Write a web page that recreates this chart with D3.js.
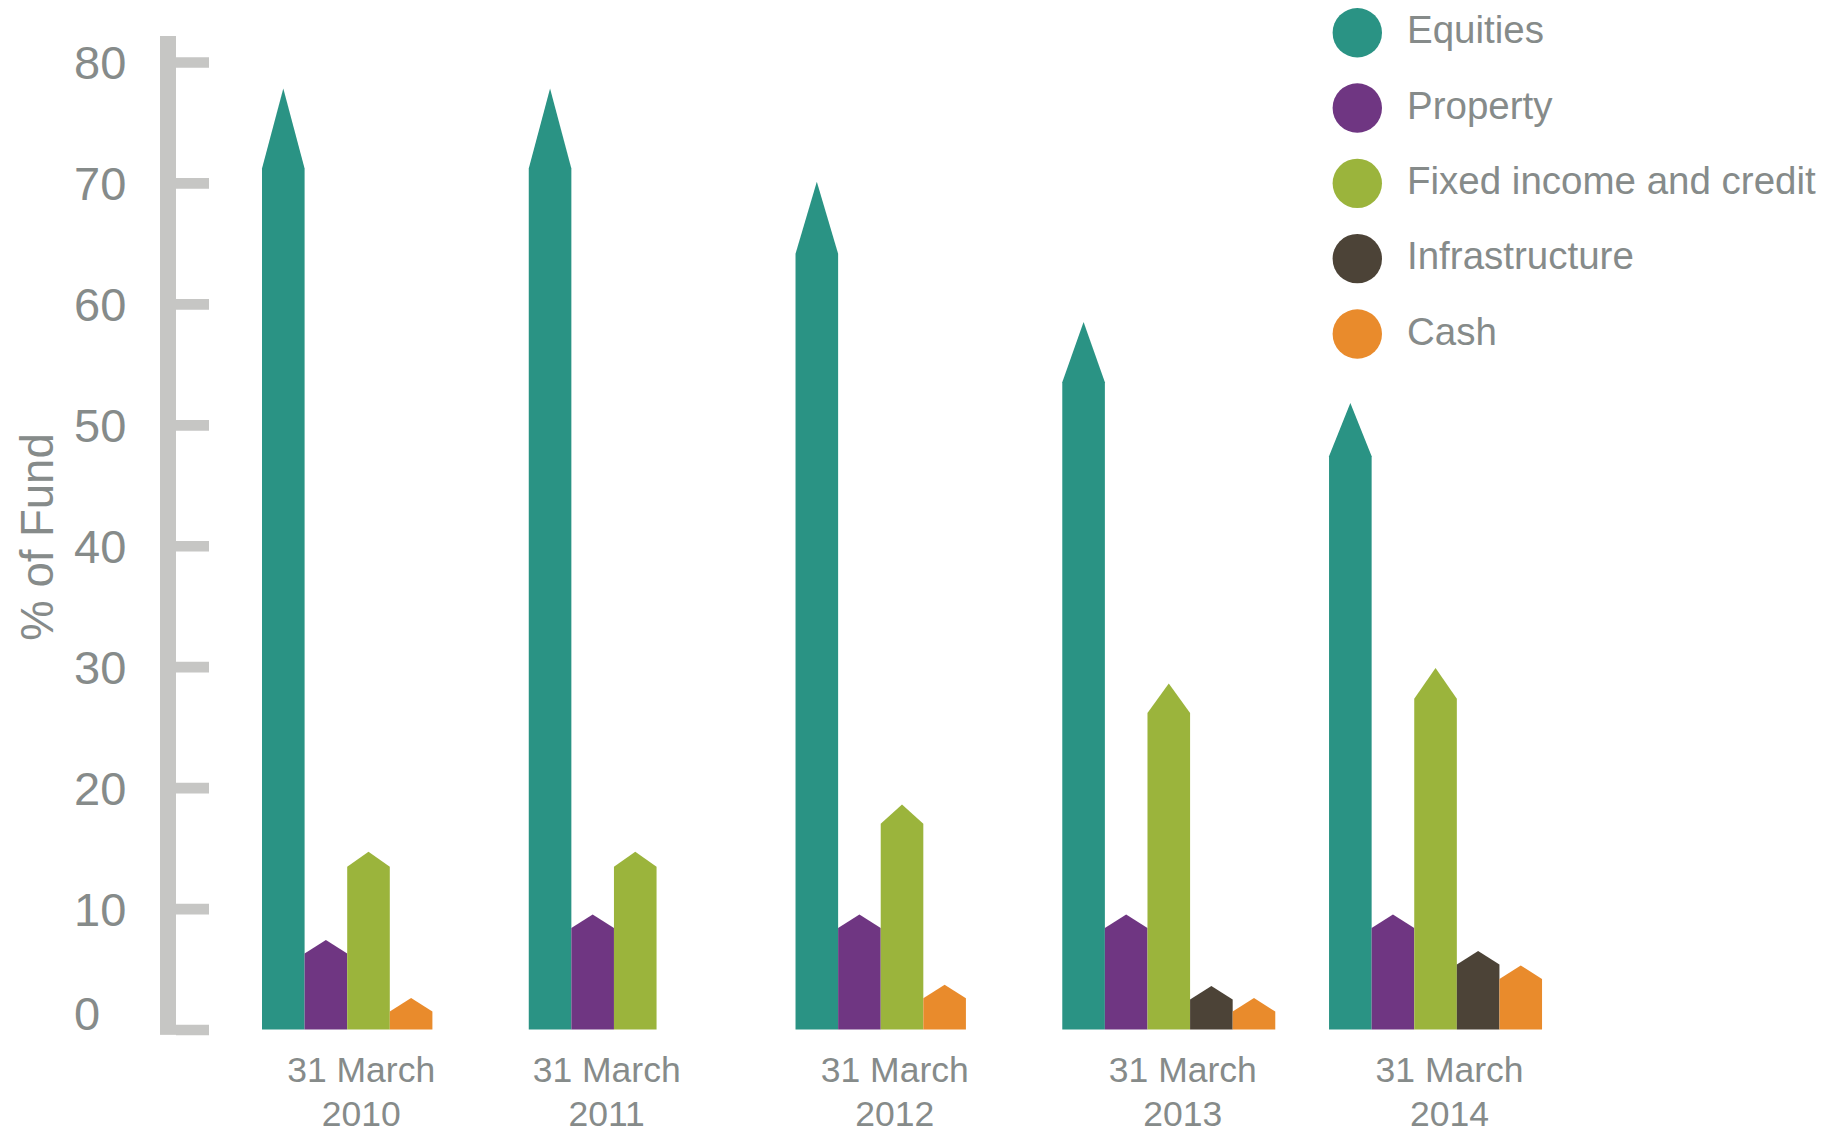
<!DOCTYPE html>
<html>
<head>
<meta charset="utf-8">
<script src="https://cdn.jsdelivr.net/npm/d3@7"></script>
<style>
  html, body { margin: 0; padding: 0; background: #ffffff; }
  svg { display: block; }
  text { font-family: "Liberation Sans", Arial, Helvetica, sans-serif; fill: #868b8a; }
</style>
</head>
<body>
<svg id="chart" width="1843" height="1133"></svg>
<script>
// Asset allocation at each year end, % of Fund
const years = ["2010", "2011", "2012", "2013", "2014"];
const dateLine = "31 March";
const seriesNames = ["Equities", "Property", "Fixed income and credit", "Infrastructure", "Cash"];
const seriesColors = ["#2a9384", "#6f3682", "#9bb43c", "#4c4337", "#e98b2c"];

const equities       = [77.8, 77.8, 70.1, 58.5, 51.8];
const property       = [7.4, 9.5, 9.5, 9.5, 9.5];
const fixedIncome    = [14.7, 14.7, 18.6, 28.6, 29.9];
const infrastructure = [null, null, null, 3.6, 6.5];
const cash           = [2.6, null, 3.7, 2.6, 5.3];

const yTicks = [0, 10, 20, 30, 40, 50, 60, 70, 80];

const seriesValues = [equities, property, fixedIncome, infrastructure, cash];

const svg = d3.select("#chart");
svg.append("rect").attr("width", 1843).attr("height", 1133).attr("fill", "#ffffff");

const y = d3.scaleLinear().domain([0, 80]).range([1029.5, 62]);
const x = d3.scaleBand().domain(years).range([262, 262 + 5 * 266.76]).padding(0);
const barW = 42.6;
const axisGrey = "#c6c6c4";

// ---- y axis: thick spine plus stubby ticks ----
const tickThick = 10.7;
svg.append("rect")
  .attr("x", 160).attr("width", 16)
  .attr("y", y(80) - 26)
  .attr("height", (y(0) + tickThick / 2) - (y(80) - 26))
  .attr("fill", axisGrey);

const yAxis = svg.append("g")
  .attr("transform", "translate(176,0)")
  .call(d3.axisRight(y).tickValues(yTicks).tickSize(33).tickFormat(""));
yAxis.select(".domain").remove();
yAxis.selectAll(".tick line")
  .attr("stroke", axisGrey)
  .attr("stroke-width", tickThick);

// tick labels, left aligned; the zero label sits above the baseline tick
svg.append("g").selectAll("text")
  .data(yTicks)
  .join("text")
  .attr("x", 74)
  .attr("y", d => Math.min(y(d), y(0) - 16.5) + 17)
  .attr("font-size", 47)
  .text(d => d);

svg.append("text")
  .attr("transform", "translate(53,537) rotate(-90)")
  .attr("text-anchor", "middle")
  .attr("font-size", 45.5)
  .text("% of Fund");

// ---- bars: each year's present series sit side by side, with a pointed top ----
const groups = years.map((yr, i) => {
  const bars = [];
  seriesValues.forEach((vals, s) => {
    if (vals[i] != null) bars.push({ series: s, value: vals[i] });
  });
  bars.forEach((b, k) => { b.x0 = x(yr) + k * barW; });
  return { year: yr, bars };
});

function barPath(b) {
  const base = y(0);
  const peak = y(b.value);
  const tip = Math.max(13.5, 0.085 * (base - peak));
  const shoulder = peak + tip;
  const x0 = b.x0, x1 = b.x0 + barW, xm = b.x0 + barW / 2;
  return `M${x0},${base}L${x0},${shoulder}L${xm},${peak}L${x1},${shoulder}L${x1},${base}Z`;
}

const g = svg.append("g").selectAll("g")
  .data(groups)
  .join("g");

g.selectAll("path")
  .data(d => d.bars)
  .join("path")
  .attr("d", barPath)
  .attr("fill", d => seriesColors[d.series]);

// ---- category labels ----
const labelX = d => x(d.year) + d.bars.length * barW / 2 + 14;
const labels = svg.append("g").selectAll("text")
  .data(groups)
  .join("text")
  .attr("text-anchor", "middle")
  .attr("font-size", 35.5)
  .attr("x", labelX)
  .attr("y", 1082);
labels.append("tspan").text(dateLine);
labels.append("tspan")
  .attr("x", labelX)
  .attr("dy", 43.5)
  .text(d => d.year);

// ---- legend ----
const ly = d3.scalePoint().domain(seriesNames).range([32.7, 334]);
const legend = svg.append("g").selectAll("g")
  .data(seriesNames)
  .join("g")
  .attr("transform", d => `translate(0,${ly(d)})`);
legend.append("circle")
  .attr("cx", 1357.3).attr("cy", 0).attr("r", 24.7)
  .attr("fill", (d, i) => seriesColors[i]);
legend.append("text")
  .attr("x", 1407).attr("y", 10.7)
  .attr("font-size", 38.5)
  .text(d => d);
</script>
</body>
</html>
